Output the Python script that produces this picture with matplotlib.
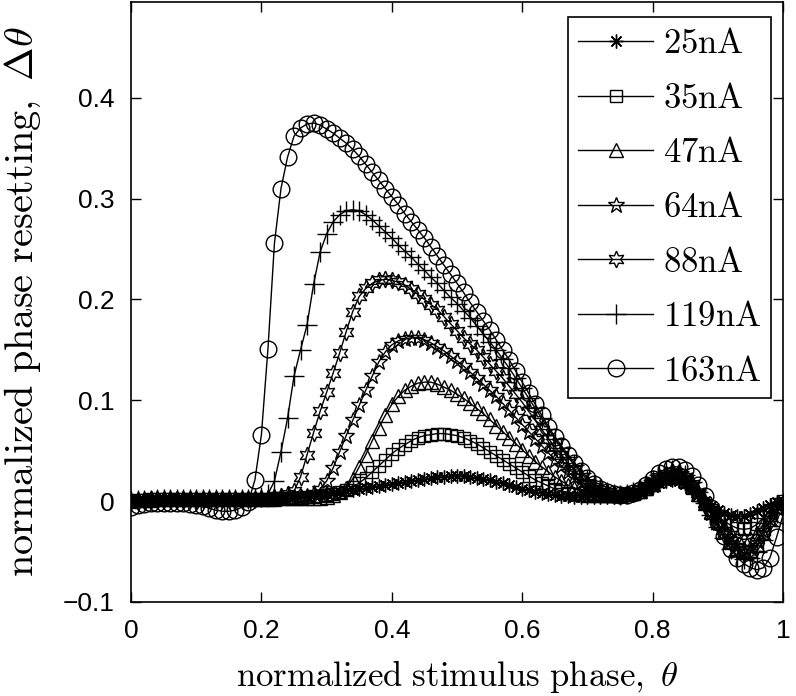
import numpy as np
import matplotlib
matplotlib.use('Agg')
import matplotlib.pyplot as plt

plt.rcParams['mathtext.fontset'] = 'cm'
plt.rcParams['font.family'] = ['Liberation Sans', 'DejaVu Sans']

# stimulus phase grid (0 .. 1, step 0.01)
phase = np.linspace(0, 1, 101)

labels = ['25nA', '35nA', '47nA', '64nA', '88nA', '119nA', '163nA']

# normalized phase resetting, 101 samples per current
r25 = [0.000, 0.001, 0.001, 0.001, 0.001, 0.002, 0.002, 0.002, 0.002, 0.002,
       0.002, 0.002, 0.002, 0.002, 0.002, 0.002, 0.002, 0.002, 0.002, 0.002,
       0.002, 0.002, 0.003, 0.003, 0.004, 0.004, 0.005, 0.005, 0.006, 0.007,
       0.007, 0.008, 0.009, 0.010, 0.011, 0.012, 0.013, 0.014, 0.015, 0.016,
       0.017, 0.018, 0.019, 0.020, 0.021, 0.022, 0.023, 0.024, 0.024, 0.025,
       0.025, 0.025, 0.024, 0.023, 0.022, 0.021, 0.019, 0.018, 0.016, 0.014,
       0.012, 0.011, 0.009, 0.008, 0.007, 0.006, 0.005, 0.005, 0.004, 0.004,
       0.004, 0.004, 0.004, 0.004, 0.004, 0.004, 0.005, 0.006, 0.008, 0.011,
       0.014, 0.018, 0.020, 0.021, 0.020, 0.017, 0.012, 0.006, 0.000, -0.005,
       -0.009, -0.012, -0.014, -0.015, -0.015, -0.013, -0.010, -0.007, -0.004, -0.001,
       0.000]
r35 = [0.000, 0.001, 0.001, 0.002, 0.002, 0.002, 0.002, 0.002, 0.002, 0.002,
       0.002, 0.002, 0.002, 0.002, 0.002, 0.002, 0.002, 0.002, 0.002, 0.002,
       0.002, 0.002, 0.003, 0.003, 0.003, 0.003, 0.003, 0.004, 0.004, 0.005,
       0.006, 0.007, 0.009, 0.011, 0.014, 0.018, 0.023, 0.029, 0.035, 0.041,
       0.047, 0.052, 0.056, 0.060, 0.063, 0.065, 0.066, 0.067, 0.067, 0.066,
       0.065, 0.063, 0.060, 0.057, 0.053, 0.049, 0.045, 0.041, 0.037, 0.033,
       0.029, 0.025, 0.021, 0.018, 0.015, 0.012, 0.010, 0.008, 0.007, 0.006,
       0.005, 0.005, 0.005, 0.005, 0.005, 0.005, 0.006, 0.007, 0.009, 0.012,
       0.016, 0.020, 0.023, 0.024, 0.023, 0.019, 0.013, 0.006, -0.002, -0.009,
       -0.015, -0.020, -0.024, -0.027, -0.028, -0.027, -0.023, -0.016, -0.009, -0.003,
       0.000]
r47 = [0.000, 0.001, 0.001, 0.001, 0.002, 0.002, 0.002, 0.002, 0.002, 0.002,
       0.002, 0.002, 0.002, 0.002, 0.002, 0.002, 0.002, 0.002, 0.002, 0.002,
       0.002, 0.002, 0.002, 0.003, 0.003, 0.003, 0.003, 0.003, 0.003, 0.003,
       0.004, 0.006, 0.009, 0.013, 0.022, 0.034, 0.046, 0.060, 0.073, 0.085,
       0.096, 0.104, 0.110, 0.114, 0.117, 0.118, 0.118, 0.116, 0.113, 0.110,
       0.106, 0.102, 0.097, 0.092, 0.087, 0.081, 0.075, 0.069, 0.063, 0.057,
       0.051, 0.045, 0.039, 0.034, 0.029, 0.024, 0.020, 0.016, 0.013, 0.011,
       0.009, 0.008, 0.007, 0.006, 0.006, 0.006, 0.007, 0.008, 0.010, 0.013,
       0.017, 0.021, 0.024, 0.026, 0.025, 0.021, 0.015, 0.007, -0.002, -0.011,
       -0.019, -0.026, -0.032, -0.036, -0.038, -0.037, -0.032, -0.023, -0.013, -0.005,
       -0.001]
r64 = [0.000, 0.001, 0.001, 0.002, 0.002, 0.002, 0.002, 0.002, 0.002, 0.002,
       0.002, 0.002, 0.002, 0.002, 0.002, 0.002, 0.002, 0.002, 0.002, 0.002,
       0.002, 0.002, 0.003, 0.003, 0.003, 0.003, 0.004, 0.005, 0.008, 0.012,
       0.020, 0.033, 0.049, 0.065, 0.080, 0.095, 0.110, 0.124, 0.138, 0.148,
       0.155, 0.159, 0.161, 0.162, 0.162, 0.160, 0.157, 0.153, 0.149, 0.144,
       0.139, 0.134, 0.128, 0.122, 0.116, 0.110, 0.104, 0.097, 0.090, 0.083,
       0.076, 0.069, 0.062, 0.055, 0.048, 0.041, 0.035, 0.029, 0.024, 0.019,
       0.015, 0.012, 0.010, 0.008, 0.007, 0.006, 0.007, 0.008, 0.010, 0.014,
       0.018, 0.023, 0.026, 0.027, 0.026, 0.022, 0.016, 0.008, -0.002, -0.012,
       -0.022, -0.031, -0.039, -0.044, -0.047, -0.046, -0.040, -0.030, -0.018, -0.007,
       -0.002]
r88 = [0.000, 0.001, 0.001, 0.002, 0.002, 0.002, 0.002, 0.002, 0.002, 0.002,
       0.002, 0.002, 0.002, 0.002, 0.002, 0.002, 0.002, 0.002, 0.002, 0.002,
       0.003, 0.003, 0.004, 0.005, 0.007, 0.010, 0.024, 0.046, 0.068, 0.089,
       0.108, 0.127, 0.147, 0.168, 0.188, 0.203, 0.211, 0.216, 0.219, 0.220,
       0.219, 0.217, 0.214, 0.210, 0.205, 0.200, 0.195, 0.190, 0.183, 0.176,
       0.169, 0.162, 0.156, 0.150, 0.143, 0.136, 0.129, 0.122, 0.114, 0.106,
       0.098, 0.089, 0.080, 0.071, 0.062, 0.054, 0.046, 0.038, 0.031, 0.024,
       0.018, 0.014, 0.011, 0.009, 0.007, 0.006, 0.007, 0.008, 0.011, 0.015,
       0.019, 0.024, 0.027, 0.029, 0.028, 0.024, 0.017, 0.008, -0.002, -0.013,
       -0.024, -0.034, -0.043, -0.049, -0.052, -0.051, -0.045, -0.034, -0.021, -0.009,
       -0.003]
r119 = [0.000, 0.001, 0.001, 0.001, 0.002, 0.002, 0.002, 0.002, 0.002, 0.002,
        0.002, 0.002, 0.002, 0.002, 0.002, 0.002, 0.002, 0.002, 0.002, 0.003,
        0.004, 0.007, 0.020, 0.049, 0.082, 0.124, 0.150, 0.175, 0.215, 0.247,
        0.265, 0.277, 0.284, 0.288, 0.289, 0.288, 0.284, 0.279, 0.273, 0.267,
        0.261, 0.254, 0.248, 0.242, 0.235, 0.229, 0.222, 0.216, 0.209, 0.202,
        0.196, 0.189, 0.182, 0.174, 0.166, 0.158, 0.150, 0.141, 0.132, 0.122,
        0.112, 0.102, 0.092, 0.082, 0.072, 0.062, 0.053, 0.044, 0.036, 0.028,
        0.021, 0.016, 0.012, 0.009, 0.007, 0.006, 0.007, 0.009, 0.012, 0.016,
        0.021, 0.026, 0.029, 0.031, 0.030, 0.026, 0.019, 0.009, -0.002, -0.014,
        -0.026, -0.037, -0.047, -0.054, -0.057, -0.056, -0.050, -0.039, -0.025, -0.012,
        -0.004]
r163 = [-0.006, -0.004, -0.003, -0.002, -0.002, -0.002, -0.002, -0.002, -0.002, -0.003,
        -0.004, -0.005, -0.007, -0.009, -0.010, -0.010, -0.009, -0.006, -0.001, 0.021,
        0.066, 0.151, 0.256, 0.310, 0.341, 0.362, 0.370, 0.374, 0.375, 0.373,
        0.369, 0.365, 0.360, 0.355, 0.349, 0.342, 0.334, 0.326, 0.318, 0.310,
        0.302, 0.294, 0.285, 0.277, 0.269, 0.261, 0.252, 0.243, 0.234, 0.225,
        0.216, 0.207, 0.197, 0.188, 0.179, 0.170, 0.160, 0.150, 0.140, 0.129,
        0.118, 0.107, 0.096, 0.085, 0.074, 0.064, 0.055, 0.046, 0.038, 0.030,
        0.023, 0.017, 0.012, 0.009, 0.007, 0.006, 0.006, 0.008, 0.011, 0.016,
        0.022, 0.028, 0.032, 0.034, 0.034, 0.031, 0.025, 0.016, 0.005, -0.007,
        -0.021, -0.035, -0.047, -0.056, -0.062, -0.066, -0.068, -0.066, -0.056, -0.036,
        -0.014]

series = [r25, r35, r47, r64, r88, r119, r163]
markers = [(8, 2, 0), 's', '^', '*', (6, 1, 0), '+', 'o']
msizes = [10, 9, 10, 12, 12, 14, 12]

fig = plt.figure(figsize=(7.96, 6.96), dpi=100)
ax = fig.add_axes([0.1646, 0.1351, 0.8191, 0.862])

for y, lab, m, ms in zip(series, labels, markers, msizes):
    ax.plot(phase, y, color='k', lw=1.0, marker=m, ms=ms, mfc='none',
            mec='k', mew=1.0, label=r'$\mathrm{%s}$' % lab)

ax.set_xlim(0, 1)
ax.set_ylim(-0.1, 0.495)
ax.set_xticks([0, 0.2, 0.4, 0.6, 0.8, 1])
ax.set_xticklabels(['0', '0.2', '0.4', '0.6', '0.8', '1'])
ax.set_yticks([-0.1, 0, 0.1, 0.2, 0.3, 0.4])
ax.set_yticklabels(['\u22120.1', '0', '0.1', '0.2', '0.3', '0.4'])
ax.tick_params(direction='in', top=True, right=True, length=7, width=1,
               labelsize=19)
ax.tick_params(axis='x', pad=12)
ax.tick_params(axis='y', pad=12)
for s in ax.spines.values():
    s.set_linewidth(1.2)

ax.set_xlabel(r'$\mathrm{normalized\ stimulus\ phase,}\ \theta$', fontsize=25, labelpad=11)
ax.set_ylabel(r'$\mathrm{normalized\ phase\ resetting,}\ \Delta\theta$', fontsize=29, labelpad=14)

leg = ax.legend(loc='upper right', bbox_to_anchor=(0.982, 0.975), borderaxespad=0,
                fontsize=25, fancybox=False, edgecolor='k', framealpha=1,
                handlelength=2.15, handletextpad=0.28, labelspacing=0.62,
                borderpad=0.3)
leg.get_frame().set_linewidth(1.2)

fig.savefig('out.png', dpi=100)
